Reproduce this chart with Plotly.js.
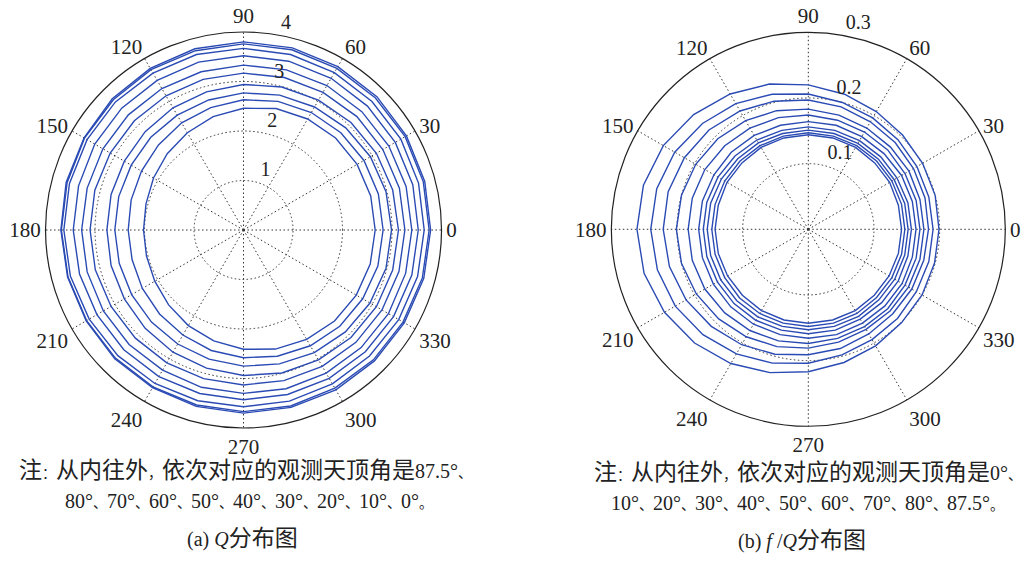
<!DOCTYPE html>
<html>
<head>
<meta charset="utf-8">
<script src="https://cdn.plot.ly/plotly-3.0.1.min.js"></script>
<style>html,body{margin:0;padding:0;background:#fff;}#chart{width:1023px;height:562px;}</style>
</head>
<body>
<div id="chart"></div>
<script>
// azimuth (deg) of each vertex
const azimuth = [0,15,30,45,60,75,90,105,120,135,150,165,180,195,210,225,240,255,270,285,300,315,330,345];
const angleTicks = [0,30,60,90,120,150,180,210,240,270,300,330];
const angleLabels = ['0','30','60','90','120','150','180','210','240','270','300','330'];

// (a) Q — inner to outer: zenith 87.5°, 80°, ..., 0°
const qZenith = ['87.5°','80°','70°','60°','50°','40°','30°','20°','10°','0°'];
const Q_875 = [2.66,2.66,2.65,2.63,2.59,2.54,2.46,2.37,2.27,2.18,2.10,2.04,2.02,2.03,2.07,2.14,2.23,2.32,2.41,2.49,2.55,2.60,2.63,2.65];
const Q_80  = [2.82,2.82,2.81,2.78,2.74,2.69,2.63,2.56,2.50,2.43,2.38,2.35,2.33,2.33,2.36,2.40,2.45,2.52,2.58,2.64,2.70,2.75,2.78,2.81];
const Q_70  = [2.99,2.98,2.96,2.92,2.87,2.82,2.77,2.72,2.68,2.65,2.62,2.61,2.60,2.60,2.61,2.63,2.66,2.70,2.75,2.80,2.86,2.91,2.95,2.98];
const Q_60  = [3.13,3.12,3.10,3.07,3.03,2.99,2.94,2.89,2.85,2.81,2.78,2.77,2.76,2.77,2.78,2.81,2.85,2.89,2.94,2.99,3.03,3.07,3.10,3.12];
const Q_50  = [3.26,3.26,3.25,3.24,3.21,3.19,3.17,3.15,3.13,3.12,3.11,3.11,3.10,3.10,3.09,3.09,3.10,3.11,3.13,3.15,3.18,3.21,3.23,3.25];
const Q_40  = [3.40,3.40,3.39,3.38,3.37,3.35,3.33,3.31,3.30,3.29,3.28,3.27,3.27,3.27,3.27,3.27,3.27,3.29,3.30,3.32,3.34,3.36,3.38,3.39];
const Q_30  = [3.53,3.54,3.54,3.54,3.54,3.53,3.52,3.51,3.49,3.48,3.47,3.45,3.44,3.43,3.42,3.42,3.42,3.42,3.43,3.44,3.46,3.48,3.50,3.52];
const Q_20  = [3.65,3.66,3.67,3.67,3.67,3.67,3.67,3.67,3.66,3.66,3.65,3.64,3.63,3.62,3.60,3.59,3.58,3.57,3.57,3.58,3.59,3.60,3.62,3.64];
const Q_10  = [3.75,3.76,3.77,3.77,3.77,3.77,3.76,3.75,3.74,3.72,3.71,3.69,3.68,3.67,3.66,3.66,3.66,3.66,3.67,3.68,3.69,3.71,3.72,3.74];
const Q_0   = [3.78,3.79,3.80,3.81,3.81,3.81,3.80,3.79,3.77,3.75,3.72,3.71,3.69,3.68,3.67,3.68,3.68,3.69,3.70,3.71,3.73,3.74,3.75,3.77];
const qTickVals = [1,2,3,4];
const qTickText = ['1','2','3','4'];

// (b) f/Q — inner to outer: zenith 0°, 10°, ..., 87.5°
const fqZenith = ['0°','10°','20°','30°','40°','50°','60°','70°','80°','87.5°'];
const FQ_0   = [0.142,0.142,0.143,0.143,0.144,0.144,0.144,0.144,0.144,0.143,0.143,0.142,0.142,0.142,0.142,0.142,0.143,0.143,0.143,0.143,0.143,0.142,0.142,0.142];
const FQ_10  = [0.147,0.147,0.147,0.147,0.147,0.147,0.147,0.147,0.147,0.147,0.147,0.147,0.147,0.147,0.147,0.148,0.148,0.148,0.148,0.148,0.148,0.147,0.147,0.147];
const FQ_20  = [0.152,0.152,0.151,0.151,0.151,0.151,0.151,0.151,0.152,0.152,0.153,0.154,0.154,0.154,0.154,0.154,0.154,0.153,0.153,0.153,0.153,0.152,0.152,0.152];
const FQ_30  = [0.157,0.157,0.156,0.156,0.156,0.156,0.156,0.156,0.157,0.158,0.159,0.160,0.160,0.160,0.160,0.160,0.160,0.159,0.159,0.159,0.158,0.158,0.158,0.157];
const FQ_40  = [0.164,0.164,0.164,0.163,0.163,0.164,0.164,0.164,0.165,0.166,0.166,0.167,0.167,0.167,0.167,0.167,0.167,0.166,0.166,0.166,0.165,0.165,0.165,0.164];
const FQ_50  = [0.170,0.170,0.170,0.171,0.171,0.172,0.174,0.176,0.178,0.180,0.182,0.183,0.183,0.183,0.182,0.180,0.178,0.176,0.174,0.172,0.171,0.171,0.170,0.170];
const FQ_60  = [0.176,0.176,0.177,0.177,0.178,0.180,0.183,0.187,0.191,0.195,0.198,0.200,0.201,0.200,0.197,0.193,0.189,0.185,0.181,0.178,0.176,0.176,0.176,0.176];
const FQ_70  = [0.183,0.184,0.185,0.187,0.189,0.193,0.197,0.202,0.208,0.214,0.218,0.221,0.221,0.219,0.215,0.209,0.203,0.197,0.191,0.188,0.184,0.182,0.182,0.182];
const FQ_80  = [0.190,0.190,0.191,0.193,0.196,0.200,0.206,0.213,0.221,0.228,0.235,0.239,0.240,0.238,0.234,0.227,0.219,0.211,0.204,0.198,0.194,0.192,0.190,0.190];
const FQ_875 = [0.199,0.200,0.201,0.203,0.207,0.213,0.220,0.229,0.238,0.247,0.255,0.260,0.261,0.259,0.253,0.245,0.236,0.226,0.217,0.210,0.205,0.201,0.200,0.199];
const fqTickVals = [0.1,0.2,0.3];
const fqTickText = ['0.1','0.2','0.3'];

const captionA1 = '注：从内往外，依次对应的观测天顶角是87.5°、';
const captionA2 = '80°、70°、60°、50°、40°、30°、20°、10°、0°。';
const captionA3 = '(a) <i>Q</i>分布图';
const captionB1 = '注：从内往外，依次对应的观测天顶角是0°、';
const captionB2 = '10°、20°、30°、40°、50°、60°、70°、80°、87.5°。';
const captionB3 = '(b) <i>f</i> /<i>Q</i>分布图';

const qSeries = [Q_875,Q_80,Q_70,Q_60,Q_50,Q_40,Q_30,Q_20,Q_10,Q_0];
const fqSeries = [FQ_0,FQ_10,FQ_20,FQ_30,FQ_40,FQ_50,FQ_60,FQ_70,FQ_80,FQ_875];

const lineColor = '#2b4bb4';
const serif = 'Liberation Serif, Times New Roman, serif';
const cjk = 'Liberation Serif, Noto Sans CJK SC, serif';
const labelAngle = 82;

const closedTheta = azimuth.concat([azimuth[0] + 360]);
function mk(r, name, sub) {
  return {
    type: 'scatterpolar', mode: 'lines', subplot: sub, name: name,
    r: r.concat([r[0]]), theta: closedTheta,
    line: {color: lineColor, width: 1.4}, showlegend: false, hoverinfo: 'skip'
  };
}
function tickLabels(vals, txt, sub) {
  return {
    type: 'scatterpolar', mode: 'text', subplot: sub,
    r: vals, theta: vals.map(() => labelAngle),
    text: txt.map(t => '\u2002' + t), textposition: 'top right', cliponaxis: false,
    textfont: {family: serif, size: 20, color: '#222'}, showlegend: false, hoverinfo: 'skip'
  };
}
const traces = [];
qSeries.forEach((s, i) => traces.push(mk(s, qZenith[i], 'polar')));
fqSeries.forEach((s, i) => traces.push(mk(s, fqZenith[i], 'polar2')));
traces.push(tickLabels(qTickVals, qTickText, 'polar'));
traces.push(tickLabels(fqTickVals, fqTickText, 'polar2'));

function polarCfg(dom, range, tv) {
  return {
    domain: dom, bgcolor: '#fff',
    radialaxis: {
      range: range, tickvals: tv, showticklabels: false, showline: false, ticks: '', angle: labelAngle,
      gridcolor: '#333', griddash: '1.5px,2.5px', gridwidth: 1
    },
    angularaxis: {
      tickvals: angleTicks, ticktext: angleLabels, direction: 'counterclockwise', rotation: 0,
      showline: true, linecolor: '#222', linewidth: 1.2, ticks: '',
      gridcolor: '#333', griddash: '1.5px,2.5px', gridwidth: 1,
      tickfont: {family: serif, size: 21, color: '#222'}
    }
  };
}
// typeset caption: CJK larger than the digits, punctuation compact
function sp(size, t) { return '<span style="font-size:' + size + 'px">' + t + '</span>'; }
function typeset(s) {
  return s.replace(/([\u4e00-\u9fff]+)|([0-9.°]+)|([、。：，])/g,
    (m, c, d, p) => c ? sp(23, c) : (d ? sp(20, d) : sp(14, p)));
}
function ann(text, x, y) {
  return {text: typeset(text), x: x, y: y, xref: 'paper', yref: 'paper', xanchor: 'center', yanchor: 'middle',
    showarrow: false, font: {family: cjk, size: 20, color: '#222'}};
}
const layout = {
  width: 1023, height: 562, margin: {l: 0, r: 0, t: 0, b: 0},
  paper_bgcolor: '#fff', showlegend: false,
  polar: polarCfg({x: [0.0445, 0.4316], y: [0.2384, 0.9431]}, [0, 4], qTickVals),
  polar2: polarCfg({x: [0.5976, 0.9827], y: [0.2415, 0.9425]}, [0, 0.3], fqTickVals),
  annotations: [
    ann(captionA1, 0.2395, 0.1637), ann(captionA2, 0.2434, 0.1085), ann(captionA3, 0.2366, 0.0427),
    ann(captionB1, 0.7898, 0.160), ann(captionB2, 0.7898, 0.105), ann(captionB3, 0.784, 0.0374)
  ]
};
Plotly.newPlot('chart', traces, layout, {staticPlot: true, displayModeBar: false});
</script>
</body>
</html>
